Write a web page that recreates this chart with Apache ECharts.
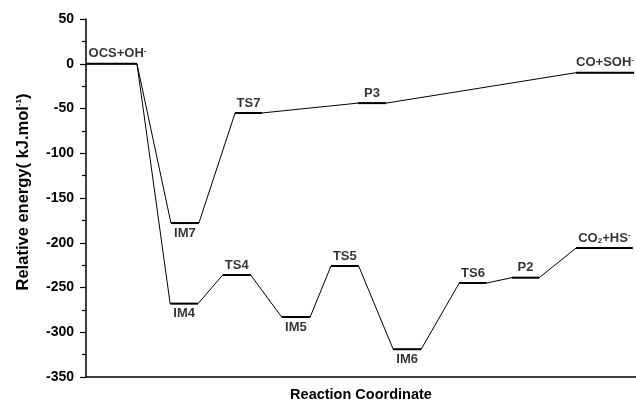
<!DOCTYPE html>
<html>
<head>
<meta charset="utf-8">
<script src="https://cdn.jsdelivr.net/npm/echarts@6/dist/echarts.min.js"></script>
<style>
html,body{margin:0;padding:0;background:#fff;}
#chart{width:636px;height:402px;}
</style>
</head>
<body>
<div id="chart"></div>
<script>
// Energy levels (reaction coordinate start/end, relative energy in kJ/mol)
const levelLabels = ['OCS+OH{sup|-}', 'IM7', 'TS7', 'P3', 'CO+SOH{sup|-}', 'IM4', 'TS4', 'IM5', 'TS5', 'IM6', 'TS6', 'P2', 'CO{sub|2}+HS{sup|-}'];
const levelEnergy = [0, -178, -55, -44, -10, -268, -236, -283, -226, -319, -245, -239, -206];
const levelStart = [0, 3.10, 5.44, 9.92, 17.88, 3.07, 4.99, 7.14, 8.94, 11.21, 13.62, 15.54, 17.88];
const levelEnd = [1.86, 4.12, 6.42, 10.95, 20.0, 4.09, 6.01, 8.18, 9.95, 12.23, 14.62, 16.54, 19.95];
const labelBelow = ['IM7', 'IM4', 'IM5', 'IM6'];
// Reaction paths (indices into level arrays)
const pathUpper = [0, 1, 2, 3, 4];
const pathLower = [0, 5, 6, 7, 8, 9, 10, 11, 12];
const yTicks = [-350, -300, -250, -200, -150, -100, -50, 0, 50];

const FONT = "'Liberation Sans', Arial, Helvetica, sans-serif";
const rich = {
  sup: { fontSize: 8, fontWeight: 'bold', fontFamily: FONT, color: '#000', verticalAlign: 'top', lineHeight: 14 },
  sub: { fontSize: 8, fontWeight: 'bold', fontFamily: FONT, color: '#000', verticalAlign: 'bottom', lineHeight: 14 }
};

function pathData(path) {
  const d = [];
  path.forEach(i => { d.push([levelStart[i], levelEnergy[i]]); d.push([levelEnd[i], levelEnergy[i]]); });
  return d;
}

const series = [];
[pathUpper, pathLower].forEach(p => {
  series.push({
    type: 'line', data: pathData(p), symbol: 'none', silent: true,
    lineStyle: { color: '#000', width: 1 }, z: 2
  });
});
levelLabels.forEach((name, i) => {
  series.push({
    type: 'line', symbol: 'none', silent: true,
    data: [[levelStart[i], levelEnergy[i]], [levelEnd[i], levelEnergy[i]]],
    lineStyle: { color: '#000', width: 2 }, z: 3
  });
});
series.push({
  type: 'scatter', symbolSize: 0, silent: true, z: 4,
  data: levelLabels.map((name, i) => ({
    value: [(levelStart[i] + levelEnd[i]) / 2, levelEnergy[i]],
    label: {
      show: true,
      position: labelBelow.indexOf(name) >= 0 ? 'bottom' : 'top',
      distance: 3,
      offset: i === 0 ? [6, 0] : [0, 0],
      formatter: name,
      fontSize: 13, fontWeight: 'bold', fontFamily: FONT, color: '#000',
      lineHeight: 14,
      rich: rich
    }
  }))
});

const chart = echarts.init(document.getElementById('chart'), null, { renderer: 'canvas' });
chart.setOption({
  animation: false,
  backgroundColor: '#fff',
  grid: { left: 86, right: 0, top: 19, bottom: 25, containLabel: false, outerBoundsMode: 'none' },
  xAxis: {
    type: 'value', min: 0, max: 20.07,
    name: 'Reaction Coordinate', nameLocation: 'middle', nameGap: 10,
    nameTextStyle: { fontSize: 14.5, fontWeight: 'bold', fontFamily: FONT, color: '#000' },
    axisLine: { show: true, onZero: false, lineStyle: { color: '#000', width: 1.5 } },
    axisTick: { show: false }, axisLabel: { show: false }, splitLine: { show: false }
  },
  yAxis: {
    type: 'value', min: yTicks[0], max: yTicks[yTicks.length - 1], interval: 50,
    name: 'Relative energy( kJ.mol{sup|-1})', nameLocation: 'middle', nameGap: 54, nameRotate: 90,
    nameTextStyle: { fontSize: 16.5, fontWeight: 'bold', fontFamily: FONT, color: '#000', rich: rich, padding: [0, 0, 0, 12] },
    axisLine: { show: true, lineStyle: { color: '#000', width: 1.5 } },
    axisTick: { show: true, inside: false, length: 6, lineStyle: { color: '#000', width: 1.2 } },
    minorTick: { show: true, splitNumber: 2, length: 4, lineStyle: { color: '#000', width: 1.2 } },
    axisLabel: { margin: 12, fontSize: 14, fontWeight: 'bold', fontFamily: FONT, color: '#000' },
    splitLine: { show: false }
  },
  series: series
});
</script>
</body>
</html>
